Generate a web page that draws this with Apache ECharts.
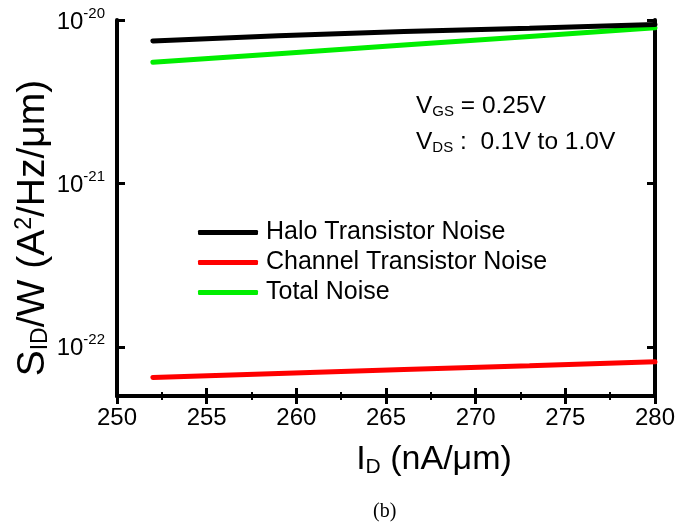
<!DOCTYPE html>
<html>
<head>
<meta charset="utf-8">
<script src="https://cdn.jsdelivr.net/npm/echarts@6/dist/echarts.min.js"></script>
<style>
html,body{margin:0;padding:0;background:#fff;}
#c{width:699px;height:527px;}
</style>
</head>
<body>
<div id="c"></div>
<script>
// ---- data ----
const idValues = [252, 259, 266, 273, 280];
const haloNoise = [7.45e-21, 8.0e-21, 8.5e-21, 8.9e-21, 9.4e-21];
const channelNoise = [6.5e-23, 6.87e-23, 7.26e-23, 7.66e-23, 8.09e-23];
const totalNoise = [5.51e-21, 6.22e-21, 7.03e-21, 7.93e-21, 8.96e-21];
const seriesNames = ['Halo Transistor Noise', 'Channel Transistor Noise', 'Total Noise'];
const seriesColors = ['#000000', '#ff0000', '#00ee00'];
const xTicks = [250, 255, 260, 265, 270, 275, 280];
const yTicks = [1e-22, 1e-21, 1e-20];

const FONT = '"Liberation Sans", Arial, sans-serif';
const chart = echarts.init(document.getElementById('c'), null, {renderer: 'canvas'});

function pair(xs, ys) { return xs.map((x, i) => [x, ys[i]]); }
const allY = [haloNoise, channelNoise, totalNoise];

const yLabelFmt = v => {
  const e = Math.round(Math.log10(v));
  return '{b|10}{s|' + e + '}';
};

const option = {
  animation: false,
  backgroundColor: '#fff',
  grid: {left: 117, right: 44, top: 20, bottom: 131, show: false},
  legend: {
    orient: 'vertical',
    left: 198, top: 220, padding: 0,
    itemWidth: 60, itemHeight: 5, itemGap: 5,
    icon: 'roundRect',
    data: seriesNames,
    textStyle: {fontFamily: FONT, fontSize: 25, color: '#000', padding: [0, 0, 0, 3]}
  },
  xAxis: [{
    type: 'value', min: 250, max: 280, interval: 5,
    position: 'bottom',
    axisLine: {show: true, lineStyle: {color: '#000', width: 4}},
    axisTick: {inside: true, length: 8, lineStyle: {width: 3, color: '#000'}},
    minorTick: {show: true, splitNumber: 2, length: 4, lineStyle: {width: 2, color: '#000'}},
    splitLine: {show: false},
    axisLabel: {fontFamily: FONT, fontSize: 24, color: '#000', margin: 10}
  }, {
    type: 'value', min: 250, max: 280, interval: 5,
    position: 'top',
    axisLine: {show: true, lineStyle: {color: '#000', width: 4}},
    axisTick: {inside: true, length: 8, lineStyle: {width: 3, color: '#000'}},
    minorTick: {show: true, splitNumber: 2, length: 4, lineStyle: {width: 2, color: '#000'}},
    splitLine: {show: false},
    axisLabel: {show: false}
  }],
  yAxis: [{
    type: 'log', min: 5e-23, max: 1e-20, logBase: 10,
    position: 'left',
    axisLine: {show: true, lineStyle: {color: '#000', width: 4}},
    axisTick: {inside: true, length: 8, lineStyle: {width: 3, color: '#000'}, customValues: yTicks},
    splitLine: {show: false},
    axisLabel: {
      customValues: yTicks,
      formatter: yLabelFmt, margin: 12,
      rich: {
        b: {fontFamily: FONT, fontSize: 24, color: '#000', verticalAlign: 'bottom', lineHeight: 28},
        s: {fontFamily: FONT, fontSize: 15, color: '#000', verticalAlign: 'top', lineHeight: 28, padding: [0, 0, 8, 0]}
      }
    }
  }, {
    type: 'log', min: 5e-23, max: 1e-20, logBase: 10,
    position: 'right',
    axisLine: {show: true, lineStyle: {color: '#000', width: 4}},
    axisTick: {inside: true, length: 8, lineStyle: {width: 3, color: '#000'}, customValues: yTicks},
    splitLine: {show: false},
    axisLabel: {show: false}
  }],
  series: seriesNames.map((n, i) => ({
    name: n, type: 'line',
    data: pair(idValues, allY[i]),
    showSymbol: false, symbol: 'none',
    lineStyle: {color: seriesColors[i], width: 5, cap: 'round'},
    itemStyle: {color: seriesColors[i]},
    z: i === 0 ? 3 : 2
  })),
  graphic: [
    {
      type: 'text', x: 33, y: 228, rotation: Math.PI / 2,
      style: {
        text: '{m|S}{sub|ID}{m|/W (A}{sup|2}{m|/Hz/\u03bcm)}',
        align: 'center', verticalAlign: 'middle',
        rich: {
          m: {fontFamily: FONT, fontSize: 39, fill: '#000'},
          sub: {fontFamily: FONT, fontSize: 23, fill: '#000', verticalAlign: 'bottom', padding: [16, 0, 0, 0]},
          sup: {fontFamily: FONT, fontSize: 23, fill: '#000', verticalAlign: 'top', padding: [0, 0, 16, 0]}
        }
      }
    },
    {
      type: 'text', x: 434, y: 460,
      style: {
        text: '{m|I}{sub|D}{m| (nA/\u03bcm)}',
        align: 'center', verticalAlign: 'middle',
        rich: {
          m: {fontFamily: FONT, fontSize: 34, fill: '#000'},
          sub: {fontFamily: FONT, fontSize: 21, fill: '#000', verticalAlign: 'bottom', padding: [15, 0, 0, 0]}
        }
      }
    },
    {
      type: 'text', left: 416, top: 94,
      style: {
        text: '{m|V}{sub|GS}{m| = 0.25V}',
        rich: {
          m: {fontFamily: FONT, fontSize: 24.5, fill: '#000'},
          sub: {fontFamily: FONT, fontSize: 15, fill: '#000', verticalAlign: 'bottom', padding: [11, 0, 0, 0]}
        }
      }
    },
    {
      type: 'text', left: 416, top: 130,
      style: {
        text: '{m|V}{sub|DS}{m| :  0.1V to 1.0V}',
        rich: {
          m: {fontFamily: FONT, fontSize: 24.5, fill: '#000'},
          sub: {fontFamily: FONT, fontSize: 15, fill: '#000', verticalAlign: 'bottom', padding: [11, 0, 0, 0]}
        }
      }
    },
    {
      type: 'text', left: 373, top: 502,
      style: {text: '(b)', fontFamily: '"Liberation Serif", "Times New Roman", serif', fontSize: 20, fill: '#000'}
    }
  ]
};
chart.setOption(option);
</script>
</body>
</html>
